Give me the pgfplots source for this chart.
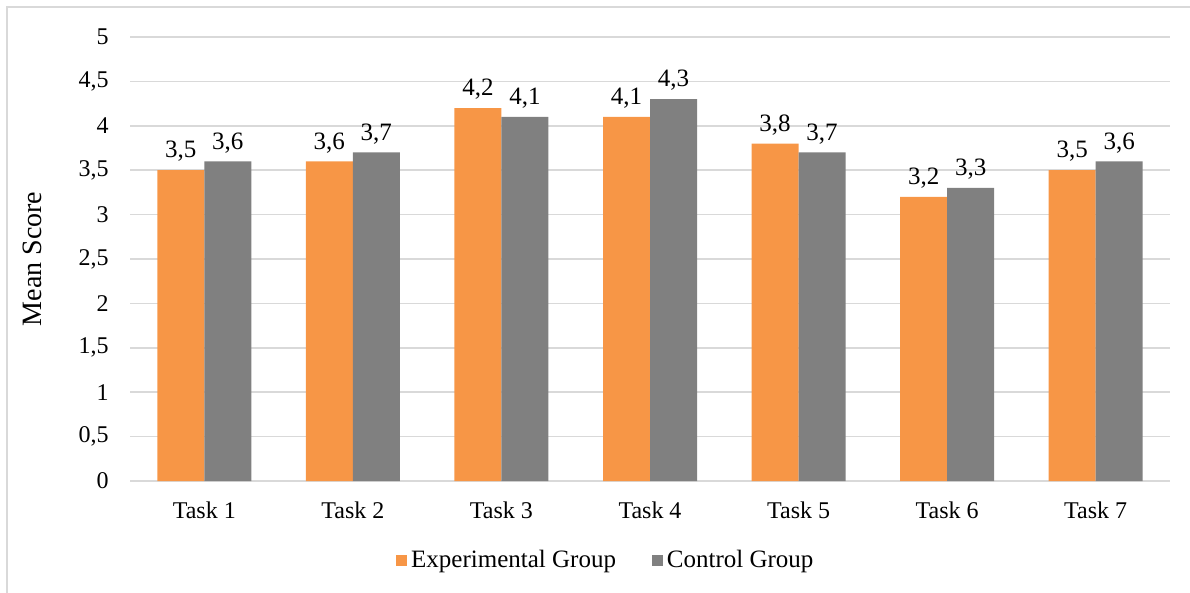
\documentclass[border=0pt]{standalone}
\usepackage{fontspec}
\setmainfont{Liberation Serif}
\usepackage{pgfplots}
\pgfplotsset{compat=1.18}
\definecolor{expc}{HTML}{F79646}
\definecolor{ctrc}{HTML}{808080}
\definecolor{gridc}{HTML}{D9D9D9}
\newcommand{\cf}{\fontsize{12bp}{14bp}\selectfont}
\begin{document}
\cf
\begin{tikzpicture}
\path[use as bounding box] (0,0) rectangle (595bp,-296.5bp);
\draw[gridc, line width=0.8bp] (3.5bp,-296.5bp) -- (3.5bp,-3.5bp) -- (595bp,-3.5bp);
\begin{axis}[
  at={(65bp,-240.5bp)}, anchor=south west,
  scale only axis, width=520bp, height=222bp,
  ybar=0pt, bar width=23.5bp,
  xmin=0.5, xmax=7.5, ymin=0, ymax=5,
  xtick={1,...,7},
  xticklabels={Task 1,Task 2,Task 3,Task 4,Task 5,Task 6,Task 7},
  ytick={0,0.5,...,5},
  /pgf/number format/use comma,
  /pgf/number format/assume math mode=true,
  yticklabel={\textrm{\pgfmathprintnumber[fixed,use comma,assume math mode=true]{\tick}}},
  yticklabel style={font=\cf, xshift=-6.5bp},
  xticklabel style={font=\cf, yshift=-6bp},
  major tick length=0pt,
  axis line style={draw=none},
  ymajorgrids, grid style={gridc, line width=0.8bp},
  ylabel={Mean Score},
  ylabel style={at={(axis description cs:-0.0942,0.5)}, rotate=0, anchor=center, font=\fontsize{14bp}{16bp}\selectfont},
  nodes near coords={\textrm{\pgfmathprintnumber[fixed,use comma,assume math mode=true]{\pgfplotspointmeta}}},
  nodes near coords style={font=\fontsize{12.5bp}{14bp}\selectfont, inner sep=4bp},
  legend style={at={(0.4585,-0.18)}, anchor=center, legend columns=2, draw=none, fill=none,
    font=\fontsize{12.5bp}{14bp}\selectfont,
    /tikz/every even column/.append style={column sep=16bp}},
  legend cell align=left,
  legend image code/.code={\fill[#1] (0bp,-2.75bp) rectangle (5.5bp,2.75bp);},
]
\addplot[fill=expc, draw=none] coordinates {(1,3.5) (2,3.6) (3,4.2) (4,4.1) (5,3.8) (6,3.2) (7,3.5)};
\addplot[fill=ctrc, draw=none] coordinates {(1,3.6) (2,3.7) (3,4.1) (4,4.3) (5,3.7) (6,3.3) (7,3.6)};
\legend{Experimental Group, Control Group}
\end{axis}
\end{tikzpicture}
\end{document}
